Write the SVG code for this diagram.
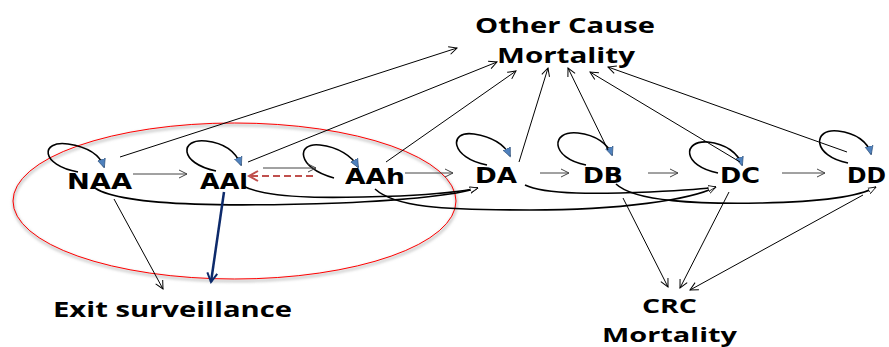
<svg xmlns="http://www.w3.org/2000/svg" width="889" height="347" viewBox="0 0 889 347">
<style>
.node{font-family:"DejaVu Sans","Verdana",sans-serif;font-weight:bold;font-size:22px;fill:#000}
.lbl{font-family:"Open Sans","Liberation Sans",sans-serif;font-weight:bold;font-size:22px;fill:#000}
.sm{font-size:20px}
.thin{fill:none;stroke:#000;stroke-width:1}
.gray{fill:none;stroke:#444;stroke-width:1}
.loop{fill:none;stroke:#000;stroke-width:1.6}
.curve{fill:none;stroke:#000;stroke-width:1.6}
</style>
<defs>
<marker id="open" markerUnits="userSpaceOnUse" markerWidth="12" markerHeight="12" refX="9" refY="5" orient="auto"><path d="M1,1 L9,5 L1,9" fill="none" stroke="#000" stroke-width="1"/></marker>
<marker id="openg" markerUnits="userSpaceOnUse" markerWidth="12" markerHeight="12" refX="9" refY="5" orient="auto"><path d="M1,1 L9,5 L1,9" fill="none" stroke="#444" stroke-width="1"/></marker>
<marker id="openr" markerUnits="userSpaceOnUse" markerWidth="14" markerHeight="14" refX="10" refY="6" orient="auto"><path d="M1,1 L10,6 L1,11" fill="none" stroke="#c0504d" stroke-width="2"/></marker>
<marker id="openn" markerUnits="userSpaceOnUse" markerWidth="14" markerHeight="14" refX="10" refY="6" orient="auto"><path d="M1,1 L10,6 L1,11" fill="none" stroke="#0d2a6b" stroke-width="2"/></marker>
<marker id="blue" markerUnits="userSpaceOnUse" markerWidth="12" markerHeight="12" refX="8" refY="5" orient="auto"><path d="M0,1 L9,5 L0,9 Z" fill="#4f81bd" stroke="#2c4d75" stroke-width="0.6"/></marker>
<marker id="tri" markerUnits="userSpaceOnUse" markerWidth="12" markerHeight="12" refX="8" refY="4" orient="auto"><path d="M0,1 L8,4 L0,7 Z" fill="#fff" stroke="#000" stroke-width="0.8"/></marker>
<filter id="sh" x="-10%" y="-10%" width="120%" height="130%"><feGaussianBlur stdDeviation="1.5"/></filter>
</defs>

<g id="ellipse">
<ellipse cx="235" cy="203" rx="221.5" ry="78" fill="none" stroke="#bbb" stroke-width="2" filter="url(#sh)"/>
<ellipse cx="234.5" cy="201" rx="221.5" ry="78" fill="none" stroke="#ff0000" stroke-width="1"/>
</g>

<g id="connectors">
<path class="loop" d="M78,172 C40,165 40,140 68,144 C88,147 100,155 104,167" marker-end="url(#blue)"/>
<path class="loop" d="M216,171 C178,163 180,138 206,141 C224,143 236,152 241,165" marker-end="url(#blue)"/>
<path class="loop" d="M334,178 C296,168 296,142 320,145 C338,147 352,156 358,167" marker-end="url(#blue)"/>
<path class="loop" d="M487,165 C450,158 448,130 474,134 C492,137 505,145 510,156" marker-end="url(#blue)"/>
<path class="loop" d="M586,165 C550,158 550,130 578,133 C596,135 608,144 612,155" marker-end="url(#blue)"/>
<path class="loop" d="M718,173 C682,166 682,140 708,142 C726,144 738,153 742,165" marker-end="url(#blue)"/>
<path class="loop" d="M848,163 C812,156 812,128 838,131 C856,133 868,142 871,154" marker-end="url(#blue)"/>
<line class="gray" x1="133" y1="174" x2="187" y2="174" marker-end="url(#openg)"/>
<line class="gray" x1="263" y1="168" x2="316" y2="168" marker-end="url(#openg)"/>
<line x1="313" y1="176" x2="249" y2="176" fill="none" stroke="#c0504d" stroke-width="2" stroke-dasharray="7,4" marker-end="url(#openr)"/>
<line class="gray" x1="405" y1="173" x2="453" y2="173" marker-end="url(#openg)"/>
<line class="gray" x1="540" y1="173" x2="569" y2="173" marker-end="url(#openg)"/>
<line class="gray" x1="648" y1="173" x2="678" y2="173" marker-end="url(#openg)"/>
<line class="gray" x1="782" y1="173" x2="825" y2="173" marker-end="url(#openg)"/>
<path class="curve" d="M95,188 C125,208 250,206 340,203 C410,200 455,195 478,188" marker-end="url(#tri)"/>
<path class="curve" d="M243,186 C270,200 340,198 400,196 C440,194 465,191 478,188" marker-end="url(#tri)"/>
<path class="curve" d="M375,189 C395,207 440,210 530,210 C620,210 690,200 716,187" marker-end="url(#tri)"/>
<path class="curve" d="M525,185 C545,195 600,194 650,192 C690,190 705,189 716,187" marker-end="url(#tri)"/>
<path class="curve" d="M616,184 C635,202 700,204 760,203 C820,202 860,196 876,187" marker-end="url(#tri)"/>
<line class="thin" x1="120" y1="157" x2="457" y2="48" marker-end="url(#open)"/>
<line class="thin" x1="248" y1="162" x2="497" y2="62" marker-end="url(#open)"/>
<line class="thin" x1="386" y1="162" x2="516" y2="71" marker-end="url(#open)"/>
<line class="thin" x1="519" y1="162" x2="548" y2="68" marker-end="url(#open)"/>
<line class="thin" x1="608" y1="150" x2="568" y2="68" marker-end="url(#open)"/>
<line class="thin" x1="740" y1="162" x2="590" y2="72" marker-end="url(#open)"/>
<line class="thin" x1="847" y1="152" x2="608" y2="67" marker-end="url(#open)"/>
<line class="thin" x1="114" y1="199" x2="163" y2="289" marker-end="url(#open)"/>
<line x1="224" y1="192" x2="211" y2="282" stroke="#0d2a6b" stroke-width="2.5" marker-end="url(#openn)"/>
<line class="thin" x1="623" y1="198" x2="668" y2="287" marker-end="url(#open)"/>
<line class="thin" x1="729" y1="192" x2="680" y2="288" marker-end="url(#open)"/>
<line class="thin" x1="863" y1="195" x2="690" y2="290" marker-end="url(#open)"/>
</g>

<g id="NAA"><text class="node" x="67" y="189" textLength="65" lengthAdjust="spacingAndGlyphs">NAA</text></g>
<g id="AAl"><text class="node" x="200" y="189" textLength="48" lengthAdjust="spacingAndGlyphs">AAl</text></g>
<g id="AAh"><text class="node" x="345" y="184" textLength="60" lengthAdjust="spacingAndGlyphs">AAh</text></g>
<g id="DA"><text class="node" x="475" y="183" textLength="42" lengthAdjust="spacingAndGlyphs">DA</text></g>
<g id="DB"><text class="node" x="583" y="183" textLength="40" lengthAdjust="spacingAndGlyphs">DB</text></g>
<g id="DC"><text class="node" x="720" y="183" textLength="40" lengthAdjust="spacingAndGlyphs">DC</text></g>
<g id="DD"><text class="node" x="847" y="183" textLength="39" lengthAdjust="spacingAndGlyphs">DD</text></g>
<g id="OCM">
<text class="lbl" x="475" y="33" textLength="180" lengthAdjust="spacingAndGlyphs">Other Cause</text>
<text class="lbl" x="497" y="63" textLength="138" lengthAdjust="spacingAndGlyphs">Mortality</text>
</g>
<g id="Exit"><text class="lbl" x="53" y="317" textLength="239" lengthAdjust="spacingAndGlyphs">Exit surveillance</text></g>
<g id="CRC">
<text class="lbl sm" x="642" y="313" textLength="55" lengthAdjust="spacingAndGlyphs">CRC</text>
<text class="lbl sm" x="602" y="342" textLength="135" lengthAdjust="spacingAndGlyphs">Mortality</text>
</g>
</svg>
